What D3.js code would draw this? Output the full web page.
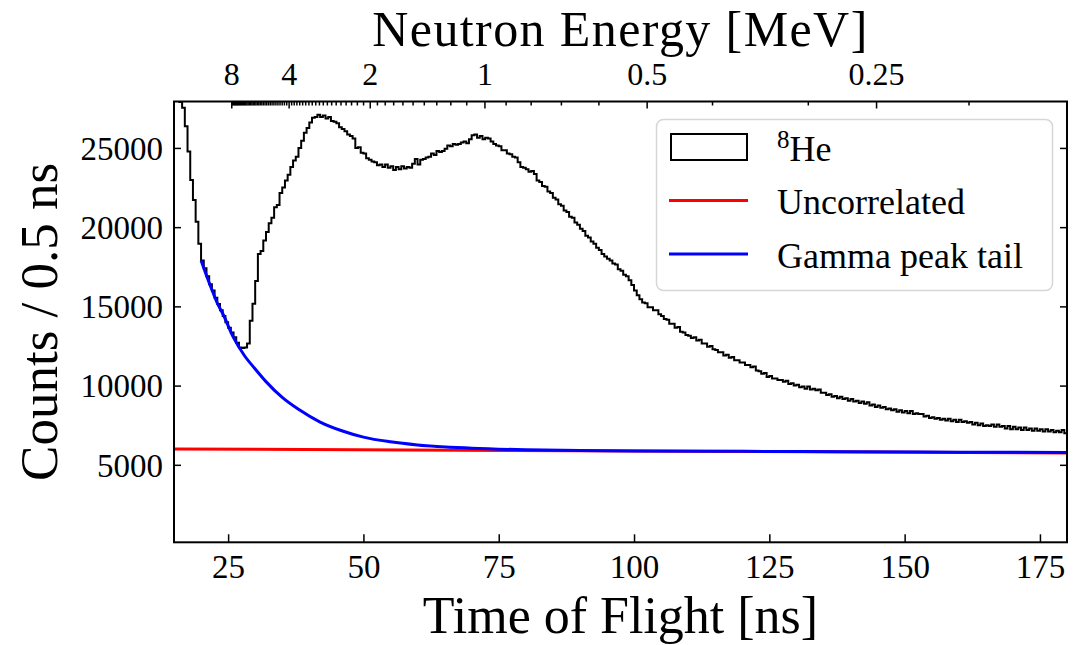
<!DOCTYPE html>
<html>
<head>
<meta charset="utf-8">
<script src="https://cdn.jsdelivr.net/npm/d3@7"></script>
<style>
  html, body { margin: 0; padding: 0; background: #fff; }
  svg { display: block; }
  text { font-family: "Liberation Serif", "DejaVu Serif", serif; fill: #000; }
</style>
</head>
<body>
<svg id="chart" width="1088" height="645"></svg>
<script>
// ---------- data ----------
// histogram: 0.5 ns bins starting at 15 ns (counts per bin)
const binStart = 15;
const binWidth = 0.5;
const he8Counts = [
  36000, 31500, 27900, 27535, 26370, 24780, 22980, 21710, 20340, 18960,
  17900, 17400, 16900, 16400, 16000, 15550, 15150, 14750, 14400, 14000,
  13650, 13350, 13050, 12700, 12400, 12380, 12400, 12650, 14100, 15170,
  16600, 18300, 18500, 19150, 19700, 20250, 20600, 21250, 21400, 22150,
  22500, 22950, 23300, 23800, 24200, 24450, 25000, 25450, 25950, 26250,
  26600, 26900, 26950, 27100, 26950, 27050, 26850, 26950, 26700, 26650,
  26550, 26300, 26200, 26050, 25850, 25750, 25600, 25000, 25050, 24700,
  24650, 24350, 24250, 24150, 24100, 23900, 23950, 23800, 23950, 23750,
  23850, 23600, 23800, 23650, 23850, 23700, 23800, 23750, 24000, 24300,
  23950, 24250, 24300, 24400, 24450, 24650, 24550, 24800, 24750, 24800,
  24950, 25150, 25100, 25250, 25200, 25250, 25350, 25400, 25300, 25550,
  25800, 25850, 25650, 25750, 25550, 25650, 25600, 25400, 25250, 25150,
  25100, 24850, 24850, 24650, 24600, 24450, 24400, 24100, 23800, 23750,
  23650, 23500, 23550, 23350, 22950, 22850, 22600, 22550, 22250, 22150,
  21850, 21750, 21450, 21350, 21050, 20950, 20650, 20600, 20300, 20150,
  19900, 19750, 19450, 19350, 19100, 18950, 18700, 18550, 18300, 18150,
  18000, 17900, 17700, 17650, 17350, 17250, 17000, 16900, 16650, 16350,
  16000, 15700, 15450, 15250, 15200, 14950, 14950, 14750, 14750, 14500,
  14400, 14200, 14150, 13900, 13900, 13650, 13700, 13400, 13350, 13200,
  13150, 13000, 13050, 12850, 12900, 12650, 12650, 12450, 12500, 12300,
  12250, 12100, 12100, 11900, 11950, 11750, 11800, 11600, 11600, 11450,
  11450, 11300, 11300, 11150, 11200, 10950, 10900, 10750, 10800, 10550,
  10600, 10450, 10450, 10350, 10350, 10250, 10300, 10100, 10150, 10000,
  10050, 9900, 9950, 9800, 9950, 9750, 9800, 9700, 9750, 9550,
  9550, 9400, 9450, 9300, 9350, 9200, 9300, 9150, 9200, 9050,
  9150, 9000, 9050, 8900, 9000, 8850, 8950, 8750, 8800, 8650,
  8750, 8600, 8650, 8500, 8550, 8450, 8500, 8350, 8450, 8300,
  8400, 8250, 8400, 8200, 8250, 8200, 8200, 8050, 8100, 7950,
  8000, 7900, 7950, 7850, 7900, 7800, 7900, 7750, 7850, 7700,
  7850, 7700, 7750, 7650, 7700, 7550, 7650, 7500, 7600, 7450,
  7500, 7450, 7550, 7400, 7550, 7400, 7450, 7300, 7450, 7250,
  7400, 7250, 7350, 7200, 7350, 7200, 7300, 7150, 7300, 7150,
  7250, 7100, 7250, 7100, 7200, 7050, 7150, 7050, 7200, 7000
];

// uncorrelated background line (ns, counts)
const uncorrT = [15, 180];
const uncorrV = [6000, 5750];

// gamma peak tail curve (ns, counts)
const gammaT = [20, 21, 22, 23, 24, 26, 28, 30, 32, 35, 38, 42, 46, 50, 55, 60, 70, 80, 90, 100, 120, 140, 160, 180];
const gammaV = [17900, 16950, 16050, 15200, 14550, 13030, 11900, 11050, 10250, 9250, 8500, 7700, 7150, 6750, 6450, 6250, 6050, 5950, 5900, 5880, 5850, 5820, 5800, 5780];

// axes ticks
const xTicks = [25, 50, 75, 100, 125, 150, 175];
const yTicks = [5000, 10000, 15000, 20000, 25000];
const topMajorE = [8, 4, 2, 1, 0.5, 0.25];
const topMajorLabels = ["8", "4", "2", "1", "0.5", "0.25"];
const tofAt1MeV = 72.36; // ns, time of flight of a 1 MeV neutron over the flight path

// ---------- layout ----------
const L = 174, R = 1067, T = 101.5, B = 542.3;
const svg = d3.select("#chart");

const x = d3.scaleLinear().domain([15, 180]).range([L, R]);
const y = d3.scaleLinear().domain([110, 27930]).range([B, T]);
const tOfE = E => tofAt1MeV / Math.sqrt(E);

svg.append("defs").append("clipPath").attr("id", "plotclip")
  .append("rect").attr("x", L).attr("y", T).attr("width", R - L).attr("height", B - T);

const plot = svg.append("g").attr("clip-path", "url(#plotclip)");

// histogram (step)
const histPts = he8Counts.map((c, i) => [binStart + i * binWidth, c]);
histPts.push([binStart + he8Counts.length * binWidth, he8Counts[he8Counts.length - 1]]);
plot.append("path")
  .attr("d", d3.line().x(d => x(d[0])).y(d => y(d[1])).curve(d3.curveStepAfter)(histPts))
  .attr("fill", "none").attr("stroke", "#000").attr("stroke-width", 2);

// uncorrelated
plot.append("path")
  .attr("d", d3.line().x((d, i) => x(uncorrT[i])).y(d => y(d))(uncorrV))
  .attr("fill", "none").attr("stroke", "#ff0000").attr("stroke-width", 3);

// gamma tail
plot.append("path")
  .attr("d", d3.line().x((d, i) => x(gammaT[i])).y(d => y(d)).curve(d3.curveMonotoneX)(gammaV))
  .attr("fill", "none").attr("stroke", "#0000ff").attr("stroke-width", 3);

// ---------- axes ----------
const tickFont = 33;
const gB = svg.append("g").attr("transform", `translate(0,${B})`)
  .call(d3.axisBottom(x).tickValues(xTicks).tickSize(-8).tickPadding(0).tickFormat(d3.format("d")));
gB.selectAll("text").attr("y", 36).attr("dy", null).style("font-size", tickFont + "px");

const gL = svg.append("g").attr("transform", `translate(${L},0)`)
  .call(d3.axisLeft(y).tickValues(yTicks).tickSize(-7).tickPadding(11).tickFormat(d3.format("d")));
gL.selectAll("text").attr("dy", "0.34em").style("font-size", tickFont + "px");

const gR = svg.append("g").attr("transform", `translate(${R},0)`)
  .call(d3.axisRight(y).tickValues(yTicks).tickSize(-7).tickFormat(""));

const topMinorE = d3.range(2, 80).map(d => d / 10).filter(e => !topMajorE.includes(e) && tOfE(e) >= 15 && tOfE(e) <= 180);
const gTmin = svg.append("g").attr("transform", `translate(0,${T})`)
  .call(d3.axisTop(x).tickValues(topMinorE.map(tOfE)).tickSize(-4).tickFormat(""));
const gT = svg.append("g").attr("transform", `translate(0,${T})`)
  .call(d3.axisTop(x).tickValues(topMajorE.map(tOfE)).tickSize(-7).tickPadding(16.5)
    .tickFormat((d, i) => topMajorLabels[i]));
gT.selectAll("text").style("font-size", "32px");

[gB, gL, gR, gT, gTmin].forEach(g => {
  g.select(".domain").remove();
  g.selectAll("line").attr("stroke", "#000").attr("stroke-width", 1.5);
  g.attr("font-family", null).attr("font-size", null);
});

// frame
svg.append("rect").attr("x", L).attr("y", T).attr("width", R - L).attr("height", B - T)
  .attr("fill", "none").attr("stroke", "#000").attr("stroke-width", 2);

// axis titles
svg.append("text").attr("x", (L + R) / 2).attr("y", 633).attr("text-anchor", "middle")
  .style("font-size", "52px").text("Time of Flight [ns]");
svg.append("text").attr("x", (L + R) / 2).attr("y", 45.5).attr("text-anchor", "middle")
  .style("font-size", "50px").style("letter-spacing", "1.4px").text("Neutron Energy [MeV]");
svg.append("text").attr("transform", `translate(57,${(T + B) / 2}) rotate(-90)`).attr("text-anchor", "middle")
  .style("font-size", "53px").text("Counts / 0.5 ns");

// ---------- legend ----------
const lg = svg.append("g");
lg.append("rect").attr("x", 656.5).attr("y", 119.5).attr("width", 396).attr("height", 171).attr("rx", 7)
  .attr("fill", "#fff").attr("fill-opacity", 0.8).attr("stroke", "#d6d6d6").attr("stroke-width", 1.5);
lg.append("rect").attr("x", 671).attr("y", 134).attr("width", 76).attr("height", 26)
  .attr("fill", "none").attr("stroke", "#000").attr("stroke-width", 2);
lg.append("line").attr("x1", 669).attr("x2", 748).attr("y1", 200.5).attr("y2", 200.5)
  .attr("stroke", "#ff0000").attr("stroke-width", 3);
lg.append("line").attr("x1", 669).attr("x2", 748).attr("y1", 254).attr("y2", 254)
  .attr("stroke", "#0000ff").attr("stroke-width", 3);
const he = lg.append("text").attr("x", 777).attr("y", 160.5).style("font-size", "36px");
he.append("tspan").attr("dy", -13).style("font-size", "25px").text("8");
he.append("tspan").attr("dy", 13).text("He");
lg.append("text").attr("x", 777).attr("y", 214).style("font-size", "36px").text("Uncorrelated");
lg.append("text").attr("x", 777).attr("y", 267.5).style("font-size", "36px").text("Gamma peak tail");
</script>
</body>
</html>
